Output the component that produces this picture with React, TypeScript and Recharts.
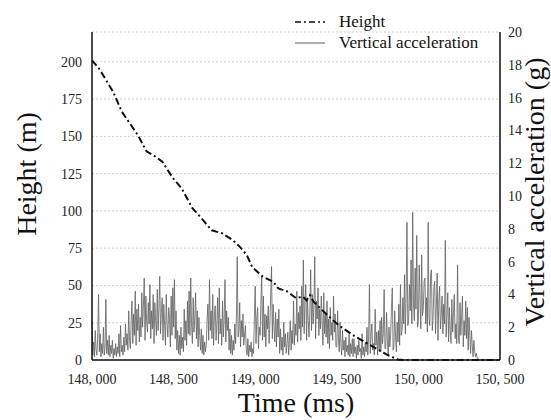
import React from 'react';
import { LineChart, Line, XAxis, YAxis, CartesianGrid, Legend, Label } from 'recharts';

// height curve (ms, m)
const heightTimes = [148000, 148043, 148129, 148183, 148280, 148334, 148388, 148431, 148496, 148550, 148614, 148679, 148733, 148797, 148862, 148905, 148948, 148981, 149045, 149110, 149142, 149196, 149250, 149293, 149315, 149336, 149358, 149444, 149509, 149595, 149703, 149810, 149875, 149907, 150000, 150250, 150500];
const heightValues = [201, 195.5, 180, 166.5, 151, 140, 136.5, 133, 122, 115, 102, 94, 87, 85, 80.5, 76, 70.5, 62.5, 56, 52.5, 48, 46, 41.5, 42.5, 40, 43.5, 39, 30, 23.5, 17, 10, 3.4, 0.4, 0, 0, 0, 0];

// vertical acceleration, one value every 5 ms from 148,000 (g), one row = 50 ms
const accelStart = 148000;
const accelStep = 5;
const accelValues = [
  2.4, 0.3, 1.1, 0.2, 1.8, 0.6, 0.3, 1.4, 4.0, 0.5,
  1.6, 0.2, 1.0, 0.4, 2.0, 0.3, 0.8, 3.7, 0.4, 1.2,
  0.3, 1.5, 0.2, 0.9, 0.4, 1.2, 0.1, 0.7, 0.3, 1.0,
  0.2, 0.8, 0.4, 1.6, 0.2, 2.1, 0.5, 0.9, 0.3, 1.4,
  0.5, 2.2, 0.9, 1.6, 0.6, 3.0, 1.2, 0.7, 2.4, 3.6,
  1.0, 2.8, 1.5, 4.2, 0.9, 3.1, 1.8, 3.4, 1.1, 2.6,
  1.4, 4.1, 2.0, 3.3, 5.0, 1.2, 3.9, 2.3, 1.7, 3.5,
  2.2, 4.6, 1.3, 3.0, 1.9, 4.0, 1.0, 3.5, 2.4, 1.5,
  4.3, 1.8, 3.2, 5.1, 1.6, 2.9, 3.8, 1.2, 3.4, 2.1,
  0.9, 4.0, 2.2, 1.4, 3.2, 2.7, 0.8, 3.9, 1.5, 4.4,
  2.0, 4.9, 1.3, 3.0, 0.6, 1.8, 0.4, 1.5, 0.3, 2.0,
  0.7, 1.4, 0.5, 3.1, 1.2, 2.4, 0.9, 3.6, 1.6, 4.2,
  1.5, 5.0, 2.2, 1.0, 3.8, 1.7, 2.6, 4.1, 1.3, 3.0,
  0.8, 2.6, 1.5, 0.6, 1.9, 0.4, 1.5, 0.3, 1.1, 0.5,
  0.9, 2.4, 3.4, 1.2, 4.9, 1.8, 3.0, 1.3, 4.0, 0.9,
  2.7, 3.3, 1.2, 2.2, 3.8, 1.0, 4.4, 1.6, 2.5, 0.9,
  3.6, 1.4, 2.5, 4.9, 1.1, 3.0, 1.8, 2.6, 0.6, 1.9,
  0.4, 1.5, 0.3, 1.2, 0.6, 2.2, 1.0, 2.8, 6.3, 1.4,
  1.8, 3.5, 0.8, 2.4, 1.4, 2.8, 0.9, 1.6, 2.1, 0.7,
  0.3, 1.3, 0.2, 0.9, 0.5, 1.1, 0.2, 0.7, 0.4, 2.6,
  4.5, 1.0, 2.6, 3.2, 0.7, 2.0, 1.5, 3.6, 5.1, 1.2,
  3.9, 1.4, 2.8, 0.8, 2.7, 1.9, 3.3, 1.0, 2.2, 4.0,
  5.7, 1.3, 3.4, 2.0, 1.1, 2.9, 0.8, 2.5, 1.4, 3.1,
  0.4, 1.9, 0.6, 1.4, 0.3, 2.3, 0.8, 1.6, 0.4, 1.0,
  1.7, 0.3, 1.2, 2.4, 0.6, 1.8, 1.0, 3.6, 0.9, 2.2,
  1.5, 4.2, 1.1, 2.9, 1.9, 3.3, 1.2, 4.5, 2.0, 6.1,
  1.6, 3.5, 4.6, 1.2, 3.8, 2.4, 1.4, 3.0, 5.5, 1.8,
  4.0, 2.2, 3.4, 6.3, 1.3, 3.6, 2.5, 4.4, 1.5, 3.1,
  1.9, 3.9, 2.4, 0.9, 4.1, 1.6, 2.8, 1.4, 3.6, 1.0,
  2.5, 0.7, 3.2, 1.5, 2.3, 1.2, 3.9, 1.7, 2.8, 0.8,
  0.8, 3.0, 1.4, 0.5, 2.3, 1.0, 0.3, 1.8, 0.6, 1.2,
  0.2, 1.4, 0.5, 0.9, 0.3, 1.6, 0.2, 1.0, 0.4, 1.3,
  0.2, 1.3, 0.4, 0.8, 0.1, 0.9, 0.3, 1.2, 0.5, 0.7,
  0.1, 1.6, 0.3, 0.8, 0.2, 1.1, 0.5, 2.0, 0.3, 1.4,
  4.6, 0.4, 1.5, 2.2, 0.6, 1.0, 0.3, 3.1, 0.9, 1.7,
  0.3, 1.8, 0.6, 2.4, 0.5, 2.6, 1.0, 1.6, 4.3, 0.7,
  0.7, 2.9, 1.2, 0.3, 2.0, 0.8, 1.5, 3.2, 4.4, 0.6,
  0.8, 3.0, 1.4, 0.5, 2.3, 1.1, 3.4, 0.9, 4.6, 1.5,
  1.8, 3.8, 2.2, 5.2, 1.6, 4.0, 8.4, 2.1, 2.4, 4.6,
  3.0, 6.1, 2.2, 9.0, 3.5, 2.4, 5.6, 3.1, 7.6, 2.0,
  2.4, 5.8, 3.6, 1.9, 6.4, 2.7, 3.1, 4.8, 5.0, 2.2,
  3.8, 1.7, 8.4, 2.6, 2.1, 5.2, 5.5, 1.8, 2.6, 4.4,
  4.8, 1.6, 3.3, 5.3, 1.2, 3.6, 4.5, 1.9, 2.7, 3.9,
  1.6, 3.4, 2.2, 7.3, 1.4, 2.8, 4.1, 1.1, 3.2, 1.8,
  1.0, 3.7, 1.7, 2.9, 4.0, 1.3, 2.2, 1.0, 5.8, 1.4,
  1.0, 3.5, 1.5, 2.8, 3.9, 0.8, 2.4, 1.5, 3.6, 1.3,
  3.2, 0.6, 2.6, 1.5, 0.4, 1.8, 0.9, 0.2, 1.2, 0.5,
  0.2, 0.4, 0.1, 0.1, 0, 0, 0, 0, 0, 0,
  0, 0, 0, 0, 0, 0, 0, 0, 0, 0,
  0, 0, 0, 0, 0, 0, 0, 0, 0, 0,
  0,
];

const timeTicks = [148000, 148500, 149000, 149500, 150000, 150500];
const heightTicks = [0, 25, 50, 75, 100, 125, 150, 175, 200];
const accelTicks = [0, 2, 4, 6, 8, 10, 12, 14, 16, 18, 20];

const heightData = heightTimes.map((t, i) => ({ t, height: heightValues[i] }));
const accelData = accelValues.map((v, i) => ({ t: accelStart + i * accelStep, accel: v }));

const FONT = 'Liberation Serif, serif';

const fmtTime = (v: number) => `${Math.floor(v / 1000)}, ${String(v % 1000).padStart(3, '0')}`;

const LegendBox = () => (
  <div style={{ fontFamily: FONT, fontSize: 17, color: '#111', lineHeight: '21px' }}>
    <div style={{ display: 'flex', alignItems: 'center' }}>
      <svg width={32} height={10} style={{ marginRight: 12 }}>
        <line x1={0} y1={5} x2={30} y2={5} stroke="#111" strokeWidth={1.5} strokeDasharray="6 3 2 3" />
      </svg>
      <span>Height</span>
    </div>
    <div style={{ display: 'flex', alignItems: 'center' }}>
      <svg width={32} height={10} style={{ marginRight: 12 }}>
        <line x1={0} y1={5} x2={30} y2={5} stroke="#777" strokeWidth={1.2} />
      </svg>
      <span>Vertical acceleration</span>
    </div>
  </div>
);

const App = () => {
  return (
    <div style={{ position: 'absolute', left: 0, top: 0, background: '#fff' }}>
      <LineChart width={551} height={420} margin={{ top: 32, right: 21, bottom: 30, left: 32 }}>
        <CartesianGrid yAxisId="h" vertical={false} stroke="#cfcfcf" strokeDasharray="2 2" />
        <XAxis
          dataKey="t"
          type="number"
          domain={[148000, 150500]}
          ticks={timeTicks}
          tickFormatter={fmtTime}
          allowDuplicatedCategory={false}
          height={30}
          tickLine={false}
          tickMargin={8}
          axisLine={{ stroke: '#111', strokeWidth: 1.5 }}
          tick={{ fill: '#222', fontSize: 14, fontFamily: FONT }}
        >
          <Label value="Time (ms)" position="bottom" offset={2} style={{ fontSize: 28, fontFamily: FONT, fill: '#111' }} />
        </XAxis>
        <YAxis
          yAxisId="h"
          domain={[0, 220]}
          ticks={heightTicks}
          width={60}
          tickLine={false}
          tickMargin={4}
          axisLine={{ stroke: '#111', strokeWidth: 1.5 }}
          tick={{ fill: '#222', fontSize: 14, fontFamily: FONT }}
        >
          <Label
            content={() => (
              <text x={36} y={174} transform="rotate(-90 36 174)" textAnchor="middle" style={{ fontSize: 28, fontFamily: FONT, fill: '#111' }}>
                Height (m)
              </text>
            )}
          />
        </YAxis>
        <YAxis
          yAxisId="a"
          orientation="right"
          domain={[0, 20]}
          ticks={accelTicks}
          width={30}
          tickLine={false}
          axisLine={{ stroke: '#111', strokeWidth: 1.5 }}
          tick={{ fill: '#222', fontSize: 14, fontFamily: FONT }}
        >
          <Label
            content={() => (
              <text x={544} y={192} transform="rotate(-90 544 192)" textAnchor="middle" style={{ fontSize: 28, fontFamily: FONT, fill: '#111' }}>
                Vertical acceleration (g)
              </text>
            )}
          />
        </YAxis>
        <Legend
          layout="vertical"
          align="center"
          verticalAlign="middle"
          content={() => <LegendBox />}
          wrapperStyle={{ left: 295, top: 11, width: 220 }}
        />
        <Line
          yAxisId="a"
          data={accelData}
          dataKey="accel"
          type="linear"
          stroke="#606060"
          strokeWidth={0.8}
          dot={false}
          isAnimationActive={false}
        />
        <Line
          yAxisId="h"
          data={heightData}
          dataKey="height"
          type="linear"
          stroke="#111"
          strokeWidth={2}
          strokeDasharray="7 3 2 3"
          dot={false}
          isAnimationActive={false}
        />
      </LineChart>
    </div>
  );
};

export default App;
